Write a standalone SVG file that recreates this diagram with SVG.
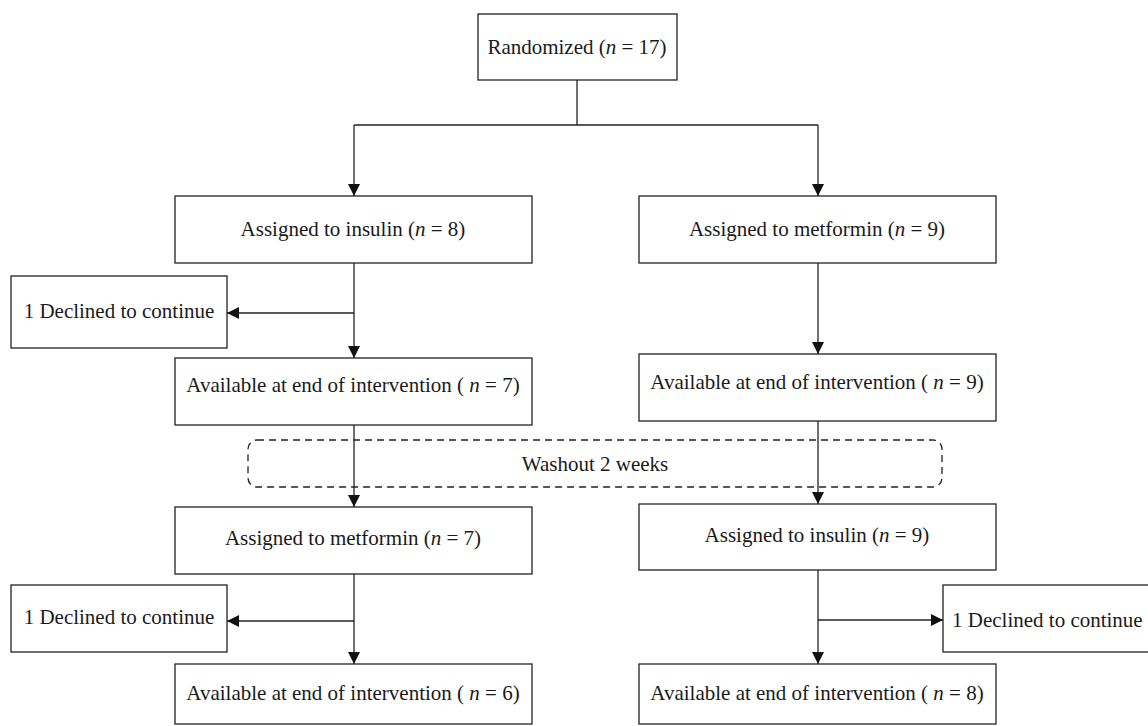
<svg xmlns="http://www.w3.org/2000/svg" width="1148" height="726" viewBox="0 0 1148 726">
<defs>
<style>
.box{fill:#fff;stroke:#222;stroke-width:1.3}
.dash{fill:none;stroke:#222;stroke-width:1.3;stroke-dasharray:7 5}
.t{font-family:"Liberation Serif","Times New Roman",serif;font-size:21px;fill:#1a1a1a;text-anchor:middle}
.ts{text-anchor:start}
.i{font-style:italic}
.c{fill:none;stroke:#222;stroke-width:1.3}
.a{marker-end:url(#ah)}
</style>
<marker id="ah" viewBox="0 0 10 10" refX="10" refY="5" markerWidth="12" markerHeight="12" markerUnits="userSpaceOnUse" orient="auto"><path d="M0,0 L10,5 L0,10 z" fill="#111"/></marker>
</defs>
<rect width="1148" height="726" fill="#fff"/>
<g id="washout">
<rect class="dash" x="248" y="440" width="694" height="47" rx="9"/>
<text class="t" x="595" y="471">Washout 2 weeks</text>
</g>
<g id="connectors">
<path class="c" d="M577,80 V125 M354,125 H818"/>
<path class="c a" d="M354,125 V196"/>
<path class="c a" d="M818,125 V196"/>
<path class="c a" d="M354,263 V358"/>
<path class="c a" d="M354,313 H227"/>
<path class="c a" d="M818,263 V354"/>
<path class="c a" d="M354,425 V507"/>
<path class="c a" d="M818,421 V504"/>
<path class="c a" d="M354,574 V664"/>
<path class="c a" d="M354,621 H227"/>
<path class="c a" d="M818,570 V664"/>
<path class="c a" d="M818,620 H943"/>
</g>
<g id="randomized">
<rect class="box" x="478" y="14" width="199" height="66"/>
<text class="t" x="577" y="54">Randomized (<tspan class="i">n</tspan> = 17)</text>
</g>
<g id="assigned-insulin-1">
<rect class="box" x="175" y="196" width="357" height="67"/>
<text class="t" x="353" y="236">Assigned to insulin (<tspan class="i">n</tspan> = 8)</text>
</g>
<g id="assigned-metformin-1">
<rect class="box" x="639" y="196" width="357" height="67"/>
<text class="t" x="817" y="236">Assigned to metformin (<tspan class="i">n</tspan> = 9)</text>
</g>
<g id="declined-1">
<rect class="box" x="11" y="276" width="216" height="72"/>
<text class="t" x="119" y="318">1 Declined to continue</text>
</g>
<g id="available-7">
<rect class="box" x="175" y="358" width="357" height="67"/>
<text class="t" x="353" y="392">Available at end of intervention ( <tspan class="i">n</tspan> = 7)</text>
</g>
<g id="available-9">
<rect class="box" x="639" y="354" width="357" height="67"/>
<text class="t" x="817" y="389">Available at end of intervention ( <tspan class="i">n</tspan> = 9)</text>
</g>
<g id="assigned-metformin-2">
<rect class="box" x="175" y="507" width="357" height="67"/>
<text class="t" x="353" y="545">Assigned to metformin (<tspan class="i">n</tspan> = 7)</text>
</g>
<g id="assigned-insulin-2">
<rect class="box" x="639" y="504" width="357" height="66"/>
<text class="t" x="817" y="542">Assigned to insulin (<tspan class="i">n</tspan> = 9)</text>
</g>
<g id="declined-2">
<rect class="box" x="11" y="585" width="216" height="67"/>
<text class="t" x="119" y="624">1 Declined to continue</text>
</g>
<g id="declined-3">
<rect class="box" x="943" y="585" width="220" height="67"/>
<text class="t ts" x="952" y="627">1 Declined to continue</text>
</g>
<g id="available-6">
<rect class="box" x="175" y="664" width="357" height="60"/>
<text class="t" x="353" y="700">Available at end of intervention ( <tspan class="i">n</tspan> = 6)</text>
</g>
<g id="available-8">
<rect class="box" x="639" y="664" width="357" height="60"/>
<text class="t" x="817" y="700">Available at end of intervention ( <tspan class="i">n</tspan> = 8)</text>
</g>
</svg>
